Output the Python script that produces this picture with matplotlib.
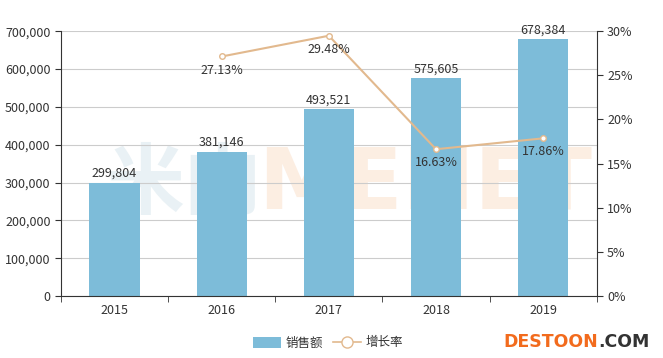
import matplotlib.pyplot as plt
from matplotlib.ticker import FuncFormatter
from matplotlib.lines import Line2D
from matplotlib.patches import Patch

plt.rcParams['font.family'] = ['Noto Sans CJK SC', 'DejaVu Sans']

years = ['2015', '2016', '2017', '2018', '2019']
sales = [299804, 381146, 493521, 575605, 678384]
growth = [None, 27.13, 29.48, 16.63, 17.86]

bar_color = '#7dbcd9'
line_color = '#e2b98e'
text_color = '#333333'

fig = plt.figure(figsize=(6.63, 3.58), dpi=100)
ax = fig.add_axes([0.092, 0.173, 0.808, 0.74])
ax2 = ax.twinx()

x = list(range(len(years)))
ax.bar(x, sales, width=0.47, color=bar_color, zorder=2)
for xi, v in zip(x, sales):
    ax.text(xi, v + 8000, f'{v:,}', ha='center', va='bottom', fontsize=9, color=text_color, zorder=5)

ax.set_xlim(-0.5, 4.5)
ax.set_ylim(0, 700000)
ax.set_yticks(range(0, 700001, 100000))
ax.yaxis.set_major_formatter(FuncFormatter(lambda v, p: f'{int(v):,}'))
ax.set_xticks(x)
ax.set_xticklabels(years)
ax.set_xticks([i - 0.5 for i in range(6)], minor=True)
ax.tick_params(axis='x', which='major', length=0, labelsize=9, labelcolor=text_color, pad=6)
ax.tick_params(axis='x', which='minor', length=4, color='#333333')
ax.tick_params(axis='y', length=4, labelsize=9, labelcolor=text_color, color='#333333')
ax.grid(axis='y', color='#cccccc', linewidth=0.8, zorder=0)
for s in ['top', 'right']:
    ax.spines[s].set_visible(False)
for s in ['left', 'bottom']:
    ax.spines[s].set_color('#333333')

# faint watermark, drawn behind the bars
ax.text(0.23, 0.42, '米内', transform=ax.transAxes, fontsize=56, color='#c2d9e3', alpha=0.35,
        ha='center', va='center', fontweight='bold', zorder=1)
ax.text(0.68, 0.42, 'MENET', transform=ax.transAxes, fontsize=62, color='#f8cfae', alpha=0.35,
        ha='center', va='center', fontweight='bold', family='DejaVu Sans', zorder=1)

gx = [xi for xi, g in zip(x, growth) if g is not None]
gy = [g for g in growth if g is not None]
ax2.plot(gx, gy, color=line_color, linewidth=1.5, marker='o', markersize=4,
         markerfacecolor='white', markeredgecolor=line_color, zorder=4)
for xi, g in zip(gx, gy):
    ax2.text(xi, g - 0.8, f'{g:.2f}%', ha='center', va='top', fontsize=9, color=text_color, zorder=5)
ax2.set_ylim(0, 30)
ax2.set_yticks(range(0, 31, 5))
ax2.yaxis.set_major_formatter(FuncFormatter(lambda v, p: f'{int(v)}%'))
ax2.tick_params(axis='y', length=4, labelsize=9, labelcolor=text_color, color='#333333')
for s in ['top', 'left', 'bottom']:
    ax2.spines[s].set_visible(False)
ax2.spines['right'].set_color('#333333')

handles = [Patch(facecolor=bar_color, edgecolor='none'),
           Line2D([0], [0], color=line_color, marker='o', markersize=8,
                  markerfacecolor='white', markeredgecolor=line_color, linewidth=1.2)]
fig.legend(handles, ['销售额', '增长率'], loc='center', bbox_to_anchor=(0.495, 0.042), ncol=2,
           frameon=False, fontsize=9, handlelength=2.2, handleheight=1.0, columnspacing=0.8,
           handletextpad=0.4, labelcolor=text_color)

fig.text(0.902, 0.045, 'DESTOON', fontsize=12.5, color='#f26b1d', fontweight='bold',
         ha='right', va='center', family='DejaVu Sans')
fig.text(0.902, 0.045, '.COM', fontsize=12.5, color='#333333', fontweight='bold',
         ha='left', va='center', family='DejaVu Sans')

fig.savefig('out.png', dpi=100)
